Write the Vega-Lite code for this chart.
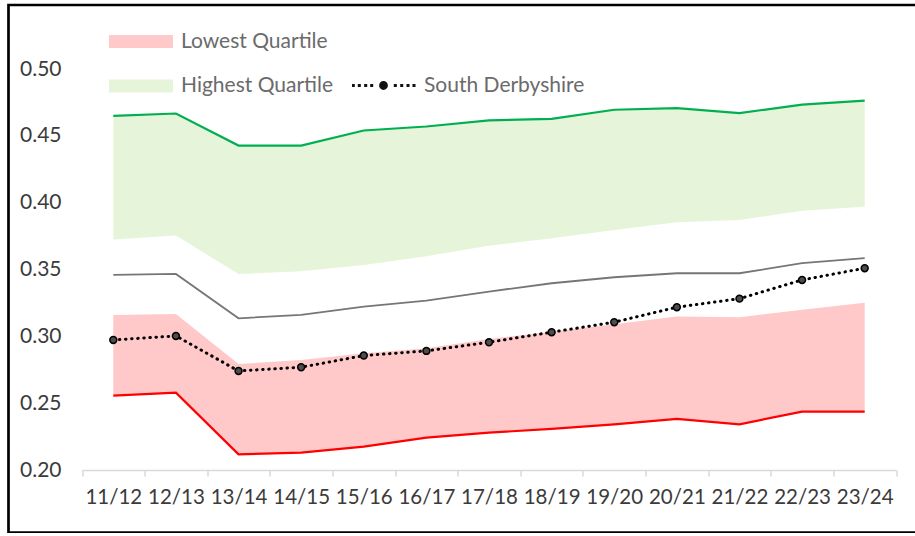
{
  "$schema": "https://vega.github.io/schema/vega-lite/v6.json",
  "width": 912.5,
  "height": 527.5,
  "autosize": {"type": "none"},
  "padding": {"left": 8.5, "top": 5, "right": -6, "bottom": 0},
  "background": "white",
  "config": {
    "font": "Lato",
    "view": {"stroke": "#000000", "strokeWidth": 2.7, "strokeDash": [912.5, 527.5, 1440]},
    "legend": {"padding": 0, "labelFont": "Lato", "labelFontSize": 21, "labelColor": "#6b6b6b", "title": null, "labelLimit": 400}
  },
  "data": {
    "values": [
      {"year": "11/12", "min": 0.2556, "lq": 0.3160, "med": 0.3460, "uq": 0.3724, "max": 0.4650, "sd": 0.2973},
      {"year": "12/13", "min": 0.2579, "lq": 0.3168, "med": 0.3467, "uq": 0.3754, "max": 0.4667, "sd": 0.3003},
      {"year": "13/14", "min": 0.2117, "lq": 0.2793, "med": 0.3135, "uq": 0.3467, "max": 0.4427, "sd": 0.2741},
      {"year": "14/15", "min": 0.2130, "lq": 0.2823, "med": 0.3160, "uq": 0.3487, "max": 0.4427, "sd": 0.2769},
      {"year": "15/16", "min": 0.2175, "lq": 0.2873, "med": 0.3222, "uq": 0.3534, "max": 0.4540, "sd": 0.2856},
      {"year": "16/17", "min": 0.2242, "lq": 0.2910, "med": 0.3267, "uq": 0.3600, "max": 0.4570, "sd": 0.2891},
      {"year": "17/18", "min": 0.2280, "lq": 0.2980, "med": 0.3335, "uq": 0.3677, "max": 0.4615, "sd": 0.2956},
      {"year": "18/19", "min": 0.2307, "lq": 0.3035, "med": 0.3397, "uq": 0.3734, "max": 0.4627, "sd": 0.3031},
      {"year": "19/20", "min": 0.2342, "lq": 0.3090, "med": 0.3442, "uq": 0.3796, "max": 0.4695, "sd": 0.3106},
      {"year": "20/21", "min": 0.2382, "lq": 0.3148, "med": 0.3472, "uq": 0.3854, "max": 0.4707, "sd": 0.3218},
      {"year": "21/22", "min": 0.2342, "lq": 0.3143, "med": 0.3472, "uq": 0.3871, "max": 0.4670, "sd": 0.3282},
      {"year": "22/23", "min": 0.2437, "lq": 0.3198, "med": 0.3547, "uq": 0.3939, "max": 0.4734, "sd": 0.3422},
      {"year": "23/24", "min": 0.2437, "lq": 0.3252, "med": 0.3585, "uq": 0.3970, "max": 0.4764, "sd": 0.3510}
    ]
  },
  "encoding": {
    "x": {
      "field": "year", "type": "nominal", "sort": null, "bandPosition": 0.5,
      "scale": {"type": "band", "range": [73.5, 887.5], "paddingInner": 0, "paddingOuter": 0},
      "axis": {"title": null, "orient": "bottom", "offset": -62.5, "domainColor": "#d9d9d9", "domainWidth": 1.5,
        "tickColor": "#d9d9d9", "tickWidth": 1.5, "tickSize": 6, "tickBand": "extent",
        "labelFont": "Lato", "labelFontSize": 20.5, "labelColor": "#3b3b3b", "labelPadding": 21,
        "labelBaseline": "middle", "labelAngle": 0, "labelOverlap": false, "grid": false}
    }
  },
  "layer": [
    {
      "mark": {"type": "area", "opacity": 1},
      "encoding": {
        "y": {"field": "min", "type": "quantitative", "title": null,
          "scale": {"domain": [0.2, 0.5], "range": [465, 64], "nice": false, "zero": false},
          "axis": {"values": [0.2, 0.25, 0.3, 0.35, 0.4, 0.45, 0.5], "format": ".2f", "offset": -60, "domain": false, "ticks": false, "tickSize": 0, "grid": false, "labelPadding": 7.5, "labelFont": "Lato", "labelFontSize": 21, "labelColor": "#3b3b3b", "title": null}},
        "y2": {"field": "lq"},
        "fill": {"datum": "Lowest Quartile", "type": "nominal",
          "scale": {"domain": ["Lowest Quartile", "Highest Quartile"], "range": ["#ffc9c9", "#e6f4d9"]},
          "legend": {"orient": "none", "legendX": 100.5, "legendY": 25.5, "symbolType": "M-1,-0.2H1V0.2H-1Z", "symbolSize": 4096, "symbolStrokeWidth": 0, "symbolOpacity": 1, "clipHeight": 22, "rowPadding": 22.5, "labelOffset": 8, "title": null}}
      }
    },
    {
      "mark": {"type": "area", "opacity": 1},
      "encoding": {
        "y": {"field": "uq", "type": "quantitative", "title": null},
        "y2": {"field": "max"},
        "fill": {"datum": "Highest Quartile", "type": "nominal"}
      }
    },
    {
      "mark": {"type": "line", "color": "#00b050", "strokeWidth": 2.2},
      "encoding": {"y": {"field": "max", "type": "quantitative", "title": null}}
    },
    {
      "mark": {"type": "line", "color": "#ff0000", "strokeWidth": 2.2},
      "encoding": {"y": {"field": "min", "type": "quantitative", "title": null}}
    },
    {
      "mark": {"type": "line", "color": "#767676", "strokeWidth": 1.8},
      "encoding": {"y": {"field": "med", "type": "quantitative", "title": null}}
    },
    {
      "mark": {"type": "line", "strokeWidth": 3, "strokeDash": [0.5, 5.6], "strokeCap": "round"},
      "encoding": {
        "y": {"field": "sd", "type": "quantitative", "title": null},
        "stroke": {"datum": "South Derbyshire", "type": "nominal",
          "scale": {"domain": ["South Derbyshire"], "range": ["#000000"]},
          "legend": {"orient": "none", "legendX": 343.5, "legendY": 69.5,
            "symbolType": "M-1.007,-0.048h0.096v0.096h-0.096ZM-0.816,-0.048h0.096v0.096h-0.096ZM-0.613,-0.048h0.096v0.096h-0.096ZM-0.423,-0.048h0.096v0.096h-0.096ZM0.327,-0.048h0.096v0.096h-0.096ZM0.530,-0.048h0.096v0.096h-0.096ZM0.730,-0.048h0.096v0.096h-0.096ZM0.920,-0.048h0.096v0.096h-0.096ZM-0.14,0A0.14,0.14,0,1,0,0.14,0A0.14,0.14,0,1,0,-0.14,0Z",
            "symbolSize": 3969, "symbolStrokeWidth": 0, "clipHeight": 22, "labelOffset": 9, "title": null,
            "encode": {"symbols": {"update": {"fill": {"value": "#111111"}, "stroke": {"value": "transparent"}, "opacity": {"value": 1}}}}}
        }
      }
    },
    {
      "mark": {"type": "point", "filled": true, "fill": "#4d4d4d", "stroke": "#000000", "strokeWidth": 1.5, "size": 48, "opacity": 1},
      "encoding": {"y": {"field": "sd", "type": "quantitative", "title": null}}
    }
  ]
}
